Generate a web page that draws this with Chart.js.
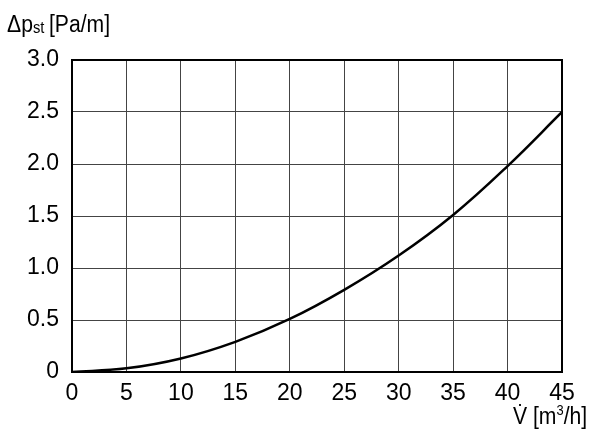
<!DOCTYPE html>
<html>
<head>
<meta charset="utf-8">
<script src="https://cdn.jsdelivr.net/npm/chart.js@4.4.1/dist/chart.umd.min.js"></script>
<style>
  html, body { margin: 0; padding: 0; background: #fff; }
  #wrap { width: 600px; height: 436px; }
</style>
</head>
<body>
<div id="wrap"><canvas id="chart" width="600" height="436"></canvas></div>
<script>
// flow rate [m3/h] and pressure drop [Pa/m]
const flowRates = [0, 5, 10, 15, 20, 25, 30, 35, 40, 45];
const pressureDrop = [0, 0.035, 0.13, 0.29, 0.51, 0.79, 1.12, 1.51, 1.98, 2.5];
const xTicks = [0, 5, 10, 15, 20, 25, 30, 35, 40, 45];
const yTicks = [0, 0.5, 1.0, 1.5, 2.0, 2.5, 3.0];

const FONT = "'Liberation Sans', Arial, sans-serif";

// axis titles with sub/superscripts, slightly condensed like the original
const axisTitles = {
    id: "axisTitles",
    afterDraw(chart) {
        const ctx = chart.ctx;
        const sx = 0.92;
        ctx.save();
        ctx.fillStyle = "#000";
        ctx.textBaseline = "alphabetic";
        ctx.textAlign = "left";
        ctx.scale(sx, 1);

        // y title: Δp_st [Pa/m]
        let x = 7 / sx, y = 32;
        ctx.font = "23px " + FONT;
        ctx.fillText("\u0394p", x, y);
        x += ctx.measureText("\u0394p").width;
        ctx.font = "16px " + FONT;
        ctx.fillText("st", x, y + 1);
        x += ctx.measureText("st").width + 5;
        ctx.font = "23px " + FONT;
        ctx.fillText("[Pa/m]", x, y);

        // x title: V̇ [m³/h]
        x = 513 / sx; y = 424;
        ctx.fillText("V\u0307 [m", x, y);
        x += ctx.measureText("V\u0307 [m").width;
        ctx.font = "14px " + FONT;
        ctx.fillText("3", x, y - 9);
        x += ctx.measureText("3").width;
        ctx.font = "23px " + FONT;
        ctx.fillText("/h]", x, y);
        ctx.restore();
    }
};

const ctx = document.getElementById("chart").getContext("2d");
new Chart(ctx, {
    type: "line",
    data: {
        datasets: [{
            data: flowRates.map((v, i) => ({ x: v, y: pressureDrop[i] })),
            borderColor: "#000",
            borderWidth: 2.5,
            pointRadius: 0,
            tension: 0.4,
            fill: false
        }]
    },
    options: {
        responsive: false,
        animation: false,
        layout: { padding: { top: 60, right: 38, left: 0, bottom: 0 } },
        plugins: { legend: { display: false }, tooltip: { enabled: false } },
        scales: {
            x: {
                type: "linear",
                min: 0,
                max: 45,
                afterBuildTicks: axis => { axis.ticks = xTicks.map(v => ({ value: v })); },
                afterFit: axis => { axis.height = 64; },
                grid: { color: "#444", lineWidth: 1, drawTicks: false },
                border: { color: "#000", width: 2 },
                ticks: {
                    color: "#000",
                    font: { family: FONT, size: 23 },
                    padding: 8,
                    maxRotation: 0,
                    callback: v => String(v)
                }
            },
            y: {
                min: 0,
                max: 3,
                afterBuildTicks: axis => { axis.ticks = yTicks.map(v => ({ value: v })); },
                afterFit: axis => { axis.width = 72; },
                grid: { color: "#444", lineWidth: 1, drawTicks: false },
                border: { color: "#000", width: 2 },
                ticks: {
                    color: "#000",
                    font: { family: FONT, size: 23 },
                    padding: 13,
                    callback: v => v === 0 ? "0" : v.toFixed(1)
                }
            }
        }
    },
    plugins: [axisTitles, {
        id: "frame",
        afterDatasetsDraw(chart) {
            const a = chart.chartArea, c = chart.ctx;
            c.save();
            c.strokeStyle = "#000";
            c.lineWidth = 2;
            c.strokeRect(a.left, a.top, a.right - a.left, a.bottom - a.top);
            c.restore();
        }
    }]
});
</script>
</body>
</html>
